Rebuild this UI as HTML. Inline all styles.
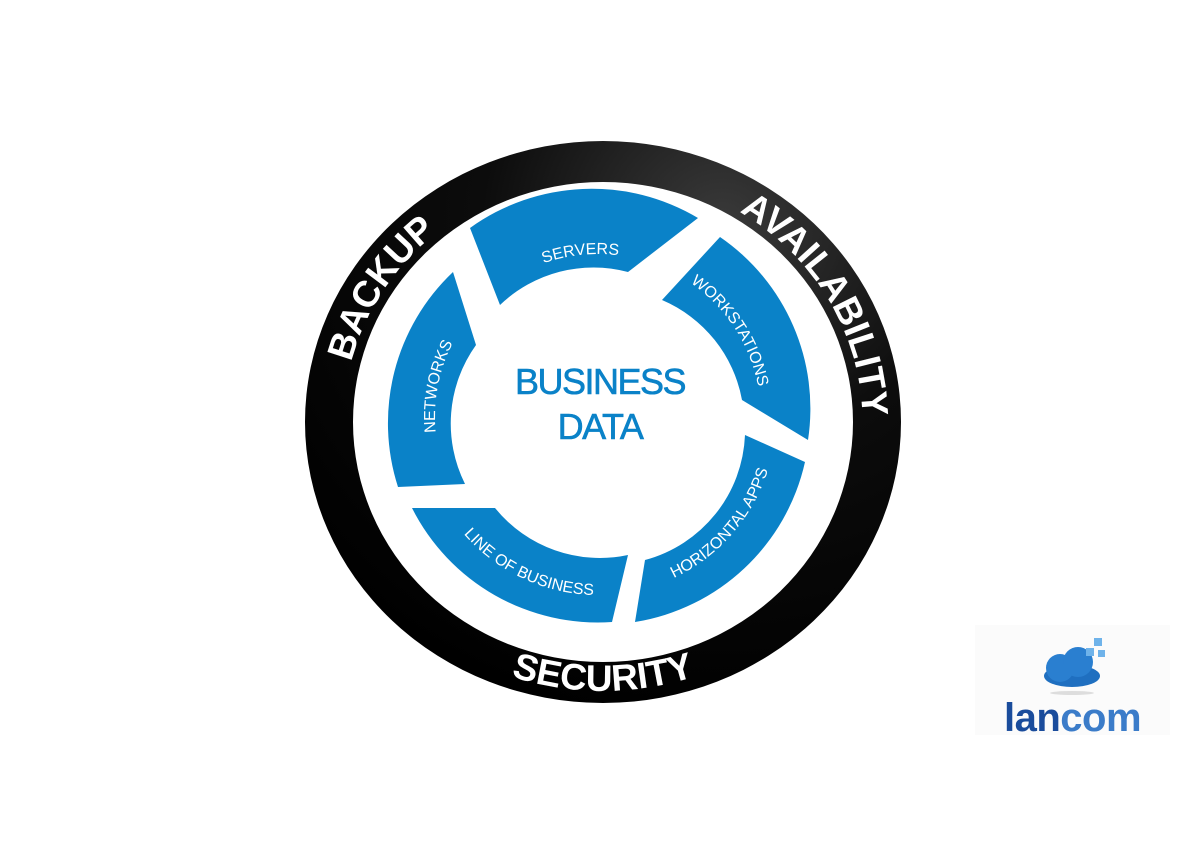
<!DOCTYPE html>
<html><head><meta charset="utf-8"><style>
html,body{margin:0;padding:0;background:#fff;}
svg{display:block;}
</style></head><body>
<svg width="1200" height="850" viewBox="0 0 1200 850" xmlns="http://www.w3.org/2000/svg" font-family="Liberation Sans, Arial, sans-serif">
<defs>
<radialGradient id="rg" cx="0.7" cy="0.15" r="0.9">
<stop offset="0" stop-color="#3a3a3a"/><stop offset="0.45" stop-color="#0c0c0c"/><stop offset="1" stop-color="#000"/>
</radialGradient>
<path id="topP" d="M 603,670 A 259 247 0 1 1 603,175 A 259 247 0 1 1 603,670"/>
<path id="botP" d="M 319,422 A 284 269 0 0 0 887,422"/>
<path id="cwP" d="M 598,580 A 163 163 0 1 1 598,254 A 163 163 0 1 1 598,580"/>
<path id="ccwP" d="M 598,239 A 178 178 0 1 0 598,595 A 178 178 0 1 0 598,239"/>
</defs>
<rect x="975" y="625" width="195" height="110" fill="#fbfbfb"/>
<path fill-rule="evenodd" fill="url(#rg)" d="M 305,422 A 298 281 0 1 1 901,422 A 298 281 0 1 1 305,422 Z M 353,422 A 250 240 0 1 0 853,422 A 250 240 0 1 0 353,422 Z"/>
<g fill="#fff" font-weight="bold" font-size="37">
<text text-anchor="middle"><textPath href="#topP" startOffset="33.8%">BACKUP</textPath></text>
<text text-anchor="middle"><textPath href="#topP" startOffset="66.8%">AVAILABILITY</textPath></text>
<text text-anchor="middle" font-size="37"><textPath href="#botP" startOffset="50%">SECURITY</textPath></text>
</g>
<g fill="#0a82c8">
<path d="M 470,228 A 208 208 0 0 1 698,218 L 628,272 A 135 135 0 0 0 500,305 Z"/>
<path d="M 720,237 A 208 208 0 0 1 808,440 L 742,400 A 135 135 0 0 0 662,300 Z"/>
<path d="M 805,462 A 208 208 0 0 1 635,622 L 645,560 A 135 135 0 0 0 745,435 Z"/>
<path d="M 612,622 A 208 208 0 0 1 412,508 L 495,508 A 135 135 0 0 0 628,555 Z"/>
<path d="M 398,487 A 208 208 0 0 1 453,272 L 476,345 A 135 135 0 0 0 465,484 Z"/>
</g>
<g fill="#fff" font-size="16">
<text text-anchor="middle"><textPath href="#cwP" startOffset="48.3%">SERVERS</textPath></text>
<text text-anchor="middle"><textPath href="#cwP" startOffset="65.8%">WORKSTATIONS</textPath></text>
<text text-anchor="middle"><textPath href="#cwP" startOffset="28%">NETWORKS</textPath></text>
<text text-anchor="middle"><textPath href="#ccwP" startOffset="43%">LINE OF BUSINESS</textPath></text>
<text text-anchor="middle"><textPath href="#ccwP" startOffset="63.6%">HORIZONTAL APPS</textPath></text>
</g>
<g fill="#0a82c8" font-size="36" text-anchor="middle" letter-spacing="-1.5" stroke="#0a82c8" stroke-width="0.6">
<text x="600" y="394">BUSINESS</text>
<text x="600" y="439">DATA</text>
</g>
<g>
<ellipse cx="1072" cy="676" rx="28" ry="11" fill="#1f6fc0"/>
<circle cx="1060" cy="668" r="14" fill="#2a7fd0"/>
<circle cx="1078" cy="662" r="15" fill="#2a7fd0"/>
<rect x="1086" y="648" width="8" height="8" fill="#6fb3ea"/>
<rect x="1094" y="638" width="8" height="8" fill="#6fb3ea"/>
<rect x="1098" y="650" width="7" height="7" fill="#6fb3ea"/>
<ellipse cx="1072" cy="693" rx="22" ry="2" fill="#ddd"/>
<text x="1004" y="731" font-size="40" font-weight="bold" letter-spacing="-0.5"><tspan fill="#1a4c9c">lan</tspan><tspan fill="#3b7cc9">com</tspan></text>
</g>
</svg>
</body></html>
